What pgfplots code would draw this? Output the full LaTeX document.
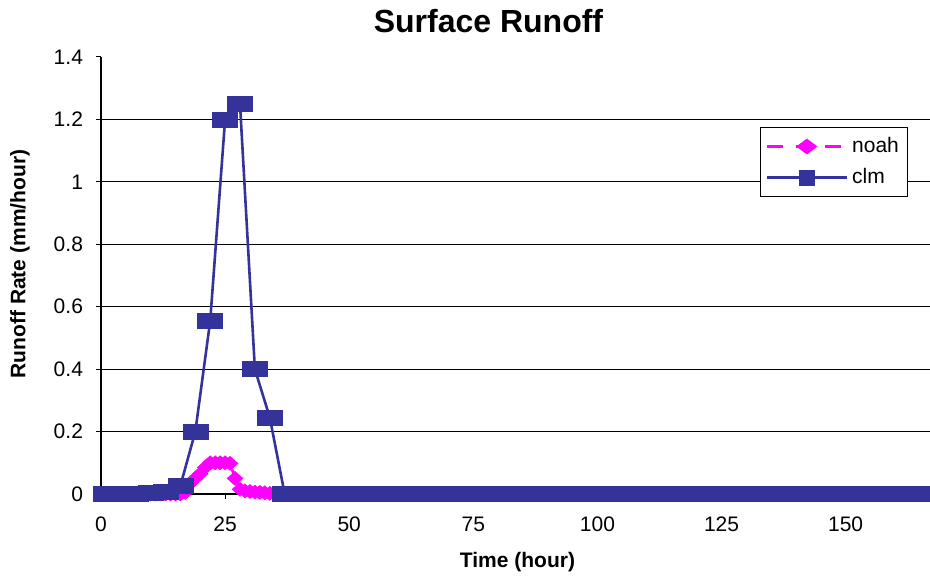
\documentclass[border=0pt]{standalone}
\usepackage{pgfplots}
\pgfplotsset{compat=1.18}
\usepackage{fontspec}
\setmainfont{Liberation Sans}

\definecolor{clmblue}{HTML}{333399}
\definecolor{noahpink}{HTML}{FF00FF}

% Hourly surface runoff from the Noah model (mm/hour)
\pgfplotstableread[row sep=\\]{
t r\\
1 0\\ 2 0\\ 3 0\\ 4 0\\ 5 0\\ 6 0\\ 7 0\\ 8 0\\ 9 0\\ 10 0\\
11 0\\ 12 0\\ 13 0\\ 14 0\\ 15 0\\ 16 0\\ 17 0.005\\ 18 0.035\\ 19 0.05\\ 20 0.065\\
21 0.085\\ 22 0.1\\ 23 0.1\\ 24 0.1\\ 25 0.1\\ 26 0.098\\ 27 0.05\\ 28 0.015\\ 29 0.01\\ 30 0.008\\
31 0.006\\ 32 0.005\\ 33 0.004\\ 34 0.002\\ 35 0.001\\ 36 0\\ 37 0\\ 38 0\\ 39 0\\ 40 0\\
41 0\\ 42 0\\ 43 0\\ 44 0\\ 45 0\\ 46 0\\ 47 0\\ 48 0\\ 49 0\\ 50 0\\
51 0\\ 52 0\\ 53 0\\ 54 0\\ 55 0\\ 56 0\\ 57 0\\ 58 0\\ 59 0\\ 60 0\\
61 0\\ 62 0\\ 63 0\\ 64 0\\ 65 0\\ 66 0\\ 67 0\\ 68 0\\ 69 0\\ 70 0\\
71 0\\ 72 0\\ 73 0\\ 74 0\\ 75 0\\ 76 0\\ 77 0\\ 78 0\\ 79 0\\ 80 0\\
81 0\\ 82 0\\ 83 0\\ 84 0\\ 85 0\\ 86 0\\ 87 0\\ 88 0\\ 89 0\\ 90 0\\
91 0\\ 92 0\\ 93 0\\ 94 0\\ 95 0\\ 96 0\\ 97 0\\ 98 0\\ 99 0\\ 100 0\\
101 0\\ 102 0\\ 103 0\\ 104 0\\ 105 0\\ 106 0\\ 107 0\\ 108 0\\ 109 0\\ 110 0\\
111 0\\ 112 0\\ 113 0\\ 114 0\\ 115 0\\ 116 0\\ 117 0\\ 118 0\\ 119 0\\ 120 0\\
121 0\\ 122 0\\ 123 0\\ 124 0\\ 125 0\\ 126 0\\ 127 0\\ 128 0\\ 129 0\\ 130 0\\
131 0\\ 132 0\\ 133 0\\ 134 0\\ 135 0\\ 136 0\\ 137 0\\ 138 0\\ 139 0\\ 140 0\\
141 0\\ 142 0\\ 143 0\\ 144 0\\ 145 0\\ 146 0\\ 147 0\\ 148 0\\ 149 0\\ 150 0\\
151 0\\ 152 0\\ 153 0\\ 154 0\\ 155 0\\ 156 0\\ 157 0\\ 158 0\\ 159 0\\ 160 0\\
161 0\\ 162 0\\ 163 0\\ 164 0\\ 165 0\\ 166 0\\ 167 0\\
}\noahtable

% Three-hourly surface runoff from CLM (mm/hour)
\pgfplotstableread[row sep=\\]{
t r\\
1 0\\ 4 0\\ 7 0.002\\ 10 0.004\\ 13 0.008\\ 16 0.027\\ 19 0.2\\ 22 0.555\\
25 1.2\\ 28 1.25\\ 31 0.4\\ 34 0.245\\ 37 0\\ 40 0\\ 43 0\\ 46 0\\
49 0\\ 52 0\\ 55 0\\ 58 0\\ 61 0\\ 64 0\\ 67 0\\ 70 0\\
73 0\\ 76 0\\ 79 0\\ 82 0\\ 85 0\\ 88 0\\ 91 0\\ 94 0\\
97 0\\ 100 0\\ 103 0\\ 106 0\\ 109 0\\ 112 0\\ 115 0\\ 118 0\\
121 0\\ 124 0\\ 127 0\\ 130 0\\ 133 0\\ 136 0\\ 139 0\\ 142 0\\
145 0\\ 148 0\\ 151 0\\ 154 0\\ 157 0\\ 160 0\\ 163 0\\ 166 0\\
}\clmtable

\begin{document}
\begin{tikzpicture}[x=1pt,y=1pt]
\useasboundingbox (0,0) rectangle (465,288.5);
\begin{axis}[
  at={(50.5pt,41.5pt)}, anchor=south west,
  scale only axis, width=414.5pt, height=218.5pt,
  xmin=0, xmax=167, ymin=0, ymax=1.4,
  axis x line=bottom, axis y line=left,
  axis line style={-, black, line width=0.7pt},
  xtick={0,25,50,75,100,125,150},
  ytick={0,0.2,0.4,0.6,0.8,1,1.2,1.4},
  extra y ticks={0.2,0.4,0.6,0.8,1,1.2},
  extra y tick labels={},
  extra y tick style={grid=major, major tick length=0pt},
  major grid style={black, line width=0.5pt},
  tick align=outside, major tick length=2.5pt,
  tick style={black, line width=0.5pt},
  minor tick num=0,
  /pgf/number format/assume math mode=true,
  ticklabel style={font=\fontsize{10.5}{12}\selectfont},
  xticklabel style={anchor=base, yshift=-16pt},
  yticklabel style={xshift=-3pt},
  clip=false,
  legend style={at={(0.795,0.84)}, anchor=north west, draw=black,
    line width=0.5pt, fill=white, font=\fontsize{10.5}{12}\selectfont,
    inner xsep=2.5pt, inner ysep=3pt, row sep=2.5pt,
    cells={anchor=west}},
  legend image code/.code={%
    \draw[mark repeat=2, mark phase=2, #1]
      plot coordinates {(0pt,0pt) (20pt,0pt) (40pt,0pt)};},
]
\addplot[noahpink, line width=1.3pt, dash pattern=on 8pt off 6.5pt,
  mark=diamond*, mark size=3.5pt,
  mark options={solid, xscale=1.5, fill=noahpink, draw=noahpink, line width=0.3pt},
  forget plot] table[x=t, y=r] {\noahtable};
\addplot[clmblue, line width=1.3pt,
  mark=square*, mark size=3.75pt,
  mark options={solid, xscale=1.667, fill=clmblue, draw=clmblue, line width=0.3pt},
  forget plot] table[x=t, y=r] {\clmtable};
\addlegendimage{noahpink, line width=1.3pt, dash pattern=on 8pt off 6.5pt,
  mark=diamond*, mark size=3.75pt,
  mark options={solid, xscale=1.78, fill=noahpink, draw=noahpink, line width=0.3pt}}
\addlegendentry{noah}
\addlegendimage{clmblue, line width=1.3pt,
  mark=square*, mark size=3.75pt,
  mark options={solid, fill=clmblue, draw=clmblue, line width=0.3pt}}
\addlegendentry{clm}
\end{axis}
\node[anchor=base, font=\fontsize{16}{19}\selectfont\bfseries] at (244.25,272) {Surface Runoff};
\node[anchor=base, font=\fontsize{10.5}{12}\selectfont\bfseries] at (258.75,4.5) {Time (hour)};
\node[rotate=90, anchor=center, font=\fontsize{10.5}{12}\selectfont\bfseries] at (10,156.5) {Runoff Rate (mm/hour)};
\end{tikzpicture}
\end{document}
